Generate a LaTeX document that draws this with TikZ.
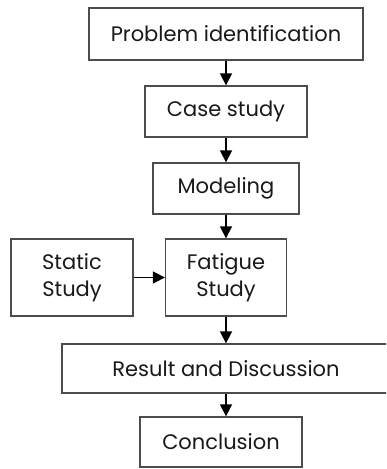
\documentclass[tikz,border=0pt]{standalone}
\usepackage{fontspec}
\setmainfont{Poppins}
\usetikzlibrary{arrows.meta}
\begin{document}
\begin{tikzpicture}[x=1pt,y=-1pt,
  box/.style={draw=black!70,line width=1.3pt,fill=white,align=center,inner sep=0pt,
    font=\fontsize{21}{27}\selectfont,text=black!90},
  arr/.style={line width=1.6pt,-{Triangle[length=12pt,width=12pt]}}]
\clip (0,0) rectangle (386,469);
\fill[white] (0,0) rectangle (386,469);
\node[box,minimum width=274pt,minimum height=52pt] (b1) at (226,34) {Problem identification};
\node[box,minimum width=162pt,minimum height=51pt] (b2) at (226,111.5) {Case study};
\node[box,minimum width=146pt,minimum height=51pt] (b3) at (226,188.5) {Modeling};
\node[box,minimum width=122pt,minimum height=77pt] (st) at (72,277.5) {Static\\Study};
\node[box,minimum width=121pt,minimum height=77pt] (fa) at (226,277.5) {Fatigue\\Study};
\node[box,minimum width=328pt,minimum height=49pt] (b5) at (226,368.5) {Result and Discussion};
\node[box,minimum width=162pt,minimum height=50pt] (b6) at (221,442) {Conclusion};
\draw[arr] (b1.south) -- (b2.north);
\draw[arr] (b2.south) -- (b3.north);
\draw[arr] (b3.south) -- (fa.north);
\draw[arr] (st.east) -- (fa.west);
\draw[arr] (fa.south) -- (b5.north);
\draw[arr] (b5.south) -- (b5.south |- b6.north);
\end{tikzpicture}
\end{document}
